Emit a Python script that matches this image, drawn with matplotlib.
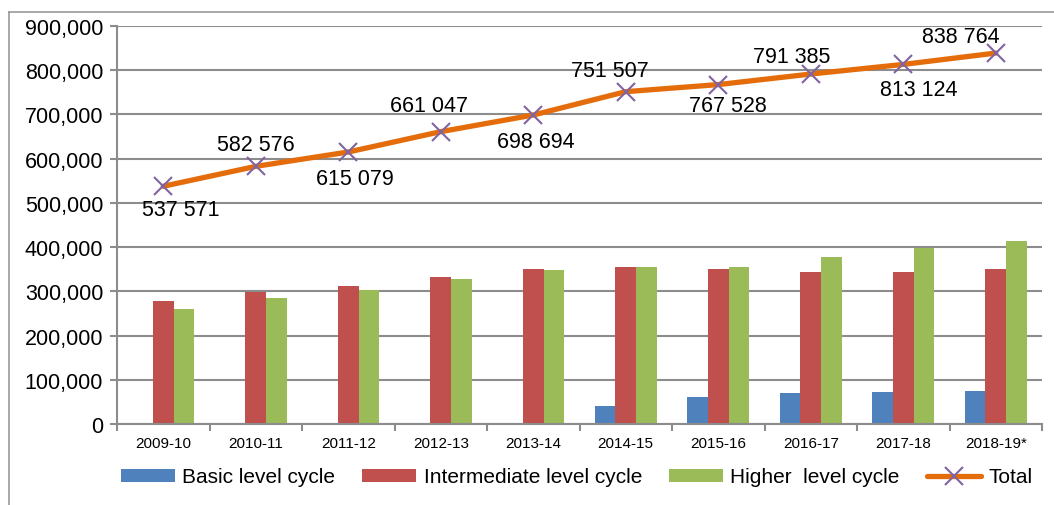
import matplotlib
matplotlib.use("Agg")
import matplotlib.pyplot as plt
from matplotlib.lines import Line2D
from matplotlib.ticker import FuncFormatter, FixedLocator
import numpy as np

plt.rcParams['font.family'] = ['Liberation Sans', 'DejaVu Sans']

years = ["2009-10", "2010-11", "2011-12", "2012-13", "2013-14",
         "2014-15", "2015-16", "2016-17", "2017-18", "2018-19*"]
basic = [0, 0, 0, 0, 0, 40000, 62000, 70000, 72000, 74000]
intermediate = [278000, 298000, 312000, 332000, 350000, 355000, 350000, 344000, 344000, 351000]
higher = [260000, 285000, 303000, 329000, 348000, 356000, 355000, 378000, 397000, 414000]
total = [537571, 582576, 615079, 661047, 698694, 751507, 767528, 791385, 813124, 838764]
series_names = ["Basic level cycle", "Intermediate level cycle", "Higher  level cycle", "Total"]

# label offsets in pixels (dx, dy) relative to each point
label_offsets = [(18, -23), (0, 22), (7, -27), (-12, 26), (3, -26),
                 (-16, 21), (10, -21), (-19, 18), (16, -25), (-35, 17)]

W, H = 1054, 506
fig = plt.figure(figsize=(W / 100, H / 100), dpi=100)
ax = fig.add_axes([117 / W, (H - 425) / H, (1042 - 117) / W, (425 - 27) / H])

grid_c = "#8c8c8c"
x = np.arange(len(years))
bw = 0.222
b1 = ax.bar(x - bw, basic, bw, color="#4F81BD", label=series_names[0], zorder=2)
b2 = ax.bar(x, intermediate, bw, color="#C0504D", label=series_names[1], zorder=2)
b3 = ax.bar(x + bw, higher, bw, color="#9BBB59", label=series_names[2], zorder=2)
ln, = ax.plot(x, total, color="#E46C0A", lw=3.8, marker="x", ms=13, mew=1.5,
              mec="#8064A2", label=series_names[3], zorder=4, solid_capstyle="round")

for xi, v, (dx, dy) in zip(x, total, label_offsets):
    lbl = f"{v:,}".replace(",", " ")
    ax.annotate(lbl, (xi, v), xytext=(dx, dy), textcoords="offset pixels",
                ha="center", va="center", fontsize=15.5, color="#000000", zorder=5)

ax.set_xlim(-0.5, len(years) - 0.5)
ax.set_ylim(0, 900000)
ax.yaxis.set_major_locator(FixedLocator(np.arange(0, 900001, 100000)))
ax.yaxis.set_major_formatter(FuncFormatter(lambda v, p: "0" if v == 0 else f"{int(v):,}"))
ax.grid(axis="y", color=grid_c, lw=1.5, zorder=0)
ax.set_axisbelow(True)

ax.set_xticks(x)
ax.set_xticklabels(years, fontsize=11)
ax.set_xticks(np.arange(-0.5, len(years)), minor=True)
ax.tick_params(axis="x", which="major", length=0, pad=9)
ax.tick_params(axis="x", which="minor", length=5, width=1.5, color=grid_c)
ax.tick_params(axis="y", length=5, width=1.5, color=grid_c, labelsize=15.5, pad=5)

for s in ["top", "right"]:
    ax.spines[s].set_visible(False)
for s in ["left", "bottom"]:
    ax.spines[s].set_color(grid_c)
    ax.spines[s].set_linewidth(1.5)

fig.legend([b1, b2, b3, ln], series_names, loc="center",
           bbox_to_anchor=(0.547, (H - 478) / H), ncol=4,
           frameon=False, fontsize=15, handlelength=2.6, handleheight=0.6,
           columnspacing=1.3, handletextpad=0.35)

# chart border
fig.add_artist(Line2D([9 / W, 9 / W], [0, (H - 12.5) / H], color="#9a9a9a", lw=1.2))
fig.add_artist(Line2D([9 / W, 1], [(H - 12.5) / H, (H - 12.5) / H], color="#9a9a9a", lw=1.2))

fig.savefig("out.png", dpi=100)
